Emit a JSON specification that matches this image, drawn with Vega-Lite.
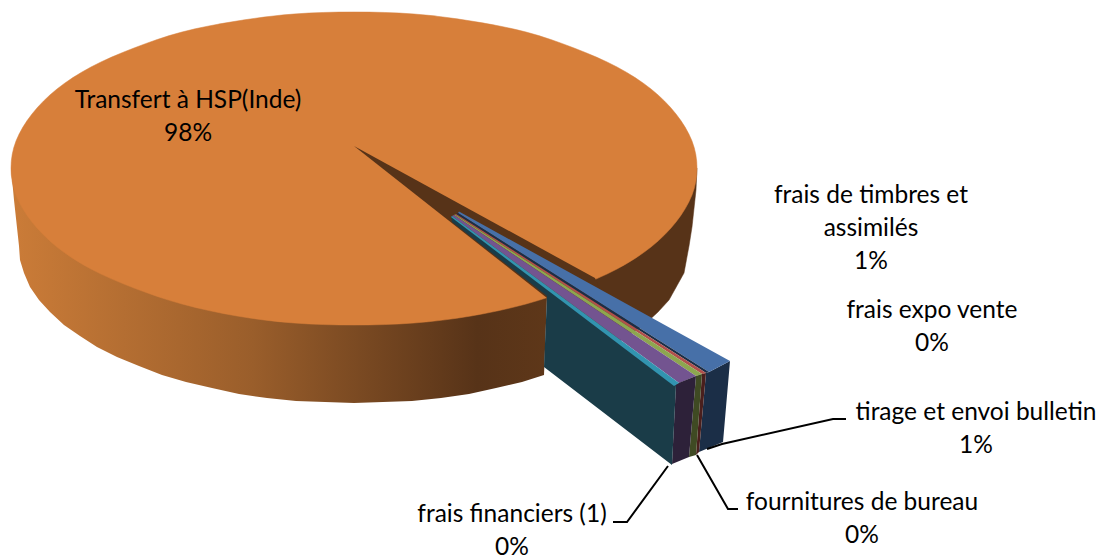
{
"$schema":"https://vega.github.io/schema/vega-lite/v6.json",
"width":1102,"height":557,"padding":0,"autosize":{"type":"none"},
"background":"white","view":{"stroke":null},
"datasets":{
"back":[{"i":1,"x":697,"y":168},{"i":2,"x":696,"y":190},{"i":3,"x":692,"y":227},{"i":4,"x":689,"y":246},{"i":5,"x":684,"y":273},{"i":6,"x":669,"y":300},{"i":7,"x":658,"y":312},{"i":8,"x":644,"y":325},{"i":9,"x":611,"y":347},{"i":10,"x":560,"y":340},{"i":11,"x":560,"y":200}],
"front":[{"i":1,"x":11,"y":168},{"i":2,"x":300,"y":200},{"i":3,"x":547,"y":250},{"i":4,"x":547,"y":297},{"i":5,"x":544,"y":375},{"i":6,"x":522,"y":382},{"i":7,"x":496,"y":388},{"i":8,"x":469,"y":394},{"i":9,"x":441,"y":398},{"i":10,"x":412,"y":401},{"i":11,"x":383,"y":402},{"i":12,"x":354,"y":403},{"i":13,"x":325,"y":402},{"i":14,"x":296,"y":401},{"i":15,"x":267,"y":398},{"i":16,"x":239,"y":394},{"i":17,"x":212,"y":388},{"i":18,"x":186,"y":382},{"i":19,"x":162,"y":375},{"i":20,"x":139,"y":366},{"i":21,"x":117,"y":357},{"i":22,"x":97,"y":347},{"i":23,"x":80,"y":336},{"i":24,"x":64,"y":325},{"i":25,"x":50,"y":312},{"i":26,"x":39,"y":300},{"i":27,"x":30,"y":287},{"i":28,"x":24,"y":273},{"i":29,"x":20,"y":260},{"i":30,"x":19,"y":246},{"i":31,"x":14,"y":200}],
"top":[{"i":1,"x":697,"y":168},{"i":2,"x":692,"y":141},{"i":3,"x":676,"y":114},{"i":4,"x":651,"y":89},{"i":5,"x":617,"y":67},{"i":6,"x":574,"y":48},{"i":7,"x":526,"y":32},{"i":8,"x":471,"y":21},{"i":9,"x":414,"y":14},{"i":10,"x":354,"y":12},{"i":11,"x":294,"y":14},{"i":12,"x":237,"y":21},{"i":13,"x":182,"y":32},{"i":14,"x":134,"y":48},{"i":15,"x":91,"y":67},{"i":16,"x":57,"y":89},{"i":17,"x":32,"y":114},{"i":18,"x":16,"y":141},{"i":19,"x":11,"y":168},{"i":20,"x":16,"y":195},{"i":21,"x":32,"y":222},{"i":22,"x":57,"y":247},{"i":23,"x":91,"y":269},{"i":24,"x":134,"y":288},{"i":25,"x":182,"y":304},{"i":26,"x":237,"y":316},{"i":27,"x":294,"y":323},{"i":28,"x":354,"y":325},{"i":29,"x":414,"y":323},{"i":30,"x":471,"y":316},{"i":31,"x":526,"y":304},{"i":32,"x":574,"y":288},{"i":33,"x":617,"y":269},{"i":34,"x":651,"y":247},{"i":35,"x":676,"y":222},{"i":36,"x":692,"y":195}],
"parts":[
{"part":"wedge","i":1,"x":354,"y":146},{"part":"wedge","i":2,"x":595,"y":278},{"part":"wedge","i":3,"x":600,"y":290},{"part":"wedge","i":4,"x":547,"y":298},
{"part":"navySide","i":1,"x":709,"y":372},{"part":"navySide","i":2,"x":730,"y":361},{"part":"navySide","i":3,"x":723,"y":442},{"part":"navySide","i":4,"x":699,"y":452},{"part":"navySide","i":5,"x":706,"y":373},
{"part":"blue","i":1,"x":459,"y":211.5},{"part":"blue","i":2,"x":730,"y":361},{"part":"blue","i":3,"x":709,"y":372},{"part":"blue","i":4,"x":458,"y":213},
{"part":"navyStrip","i":1,"x":458,"y":213},{"part":"navyStrip","i":2,"x":709,"y":372},{"part":"navyStrip","i":3,"x":706,"y":373},{"part":"navyStrip","i":4,"x":700,"y":369},{"part":"navyStrip","i":5,"x":456,"y":214},
{"part":"red","i":1,"x":456,"y":214},{"part":"red","i":2,"x":700,"y":369},{"part":"red","i":3,"x":706,"y":373},{"part":"red","i":4,"x":702,"y":374},{"part":"red","i":5,"x":455,"y":214.5},
{"part":"redSide","i":1,"x":706,"y":373},{"part":"redSide","i":2,"x":702,"y":374},{"part":"redSide","i":3,"x":696,"y":455},{"part":"redSide","i":4,"x":699,"y":452},
{"part":"green","i":1,"x":455,"y":214.5},{"part":"green","i":2,"x":702,"y":374},{"part":"green","i":3,"x":696,"y":376},{"part":"green","i":4,"x":454,"y":215},
{"part":"greenSide","i":1,"x":702,"y":374},{"part":"greenSide","i":2,"x":696,"y":376},{"part":"greenSide","i":3,"x":689,"y":457},{"part":"greenSide","i":4,"x":696,"y":455},
{"part":"purple","i":1,"x":454,"y":215},{"part":"purple","i":2,"x":696,"y":376},{"part":"purple","i":3,"x":679,"y":383},{"part":"purple","i":4,"x":452,"y":216},
{"part":"purpleSide","i":1,"x":696,"y":376},{"part":"purpleSide","i":2,"x":676,"y":384},{"part":"purpleSide","i":3,"x":672,"y":464},{"part":"purpleSide","i":4,"x":689,"y":457},
{"part":"tealSide","i":1,"x":451,"y":216},{"part":"tealSide","i":2,"x":676,"y":385},{"part":"tealSide","i":3,"x":672,"y":465},{"part":"tealSide","i":4,"x":544,"y":367},{"part":"tealSide","i":5,"x":547,"y":296},{"part":"tealSide","i":6,"x":452,"y":222},
{"part":"cyan","i":1,"x":452,"y":216},{"part":"cyan","i":2,"x":679,"y":383},{"part":"cyan","i":3,"x":674,"y":386},{"part":"cyan","i":4,"x":451,"y":217}
],
"leaders":[
{"slice":"tirage et envoi bulletin","i":1,"x":707,"y":449},{"slice":"tirage et envoi bulletin","i":2,"x":722,"y":444},{"slice":"tirage et envoi bulletin","i":3,"x":833,"y":419},{"slice":"tirage et envoi bulletin","i":4,"x":846,"y":419},
{"slice":"fournitures de bureau","i":1,"x":697,"y":455},{"slice":"fournitures de bureau","i":2,"x":728,"y":509},{"slice":"fournitures de bureau","i":3,"x":738,"y":509},
{"slice":"frais financiers (1)","i":1,"x":668,"y":466},{"slice":"frais financiers (1)","i":2,"x":627,"y":522},{"slice":"frais financiers (1)","i":3,"x":613,"y":522}
],
"labels":[
{"label":"Transfert à HSP(Inde)\n98%","x":188,"y":108},
{"label":"frais de timbres et\nassimilés\n1%","x":871,"y":203},
{"label":"frais expo vente\n0%","x":932,"y":318},
{"label":"tirage et envoi bulletin\n1%","x":976,"y":420},
{"label":"fournitures de bureau\n0%","x":862,"y":510},
{"label":"frais financiers (1)\n0%","x":512,"y":522}
]
},
"encoding":{
"x":{"field":"x","type":"quantitative","scale":{"domain":[0,1102],"nice":false,"zero":false},"axis":null},
"y":{"field":"y","type":"quantitative","scale":{"domain":[557,0],"nice":false,"zero":false},"axis":null}
},
"layer":[
{"data":{"name":"back"},"mark":{"type":"line","fill":"#573318","stroke":"#573318","strokeWidth":0.5},"encoding":{"order":{"field":"i","type":"quantitative"}}},
{"data":{"name":"front"},"mark":{"type":"line","strokeWidth":0,"fill":{"gradient":"linear","x1":0,"y1":0,"x2":1,"y2":0,"stops":[{"offset":0,"color":"#CB7C38"},{"offset":0.45,"color":"#9A5E2B"},{"offset":0.87,"color":"#573318"},{"offset":1,"color":"#5E3719"}]}},"encoding":{"order":{"field":"i","type":"quantitative"}}},
{"data":{"name":"top"},"mark":{"type":"line","interpolate":"cardinal-closed","fill":"#D77F3A","stroke":"#D77F3A","strokeWidth":0.5},"encoding":{"order":{"field":"i","type":"quantitative"}}},
{"data":{"name":"parts"},"mark":{"type":"line","strokeWidth":0},"encoding":{
"order":{"field":"i","type":"quantitative"},
"fill":{"field":"part","type":"nominal","legend":null,"scale":{"domain":["wedge","navySide","blue","navyStrip","red","redSide","green","greenSide","purple","purpleSide","tealSide","cyan"],"range":["#573318","#1B2E47","#4770A8","#1B2E47","#B0504C","#4A1F1D","#8DA64F","#3F4A23","#735490","#2D2139","#1A3C48","#3294B0"]}}}},
{"data":{"name":"leaders"},"mark":{"type":"line","stroke":"#000000","strokeWidth":2},"encoding":{"order":{"field":"i","type":"quantitative"},"detail":{"field":"slice"}}},
{"data":{"name":"labels"},"mark":{"type":"text","font":"Lato","fontSize":24.5,"align":"center","baseline":"alphabetic","lineBreak":"\n","lineHeight":33,"fill":"#000000"},"encoding":{"text":{"field":"label"}}}
]
}
